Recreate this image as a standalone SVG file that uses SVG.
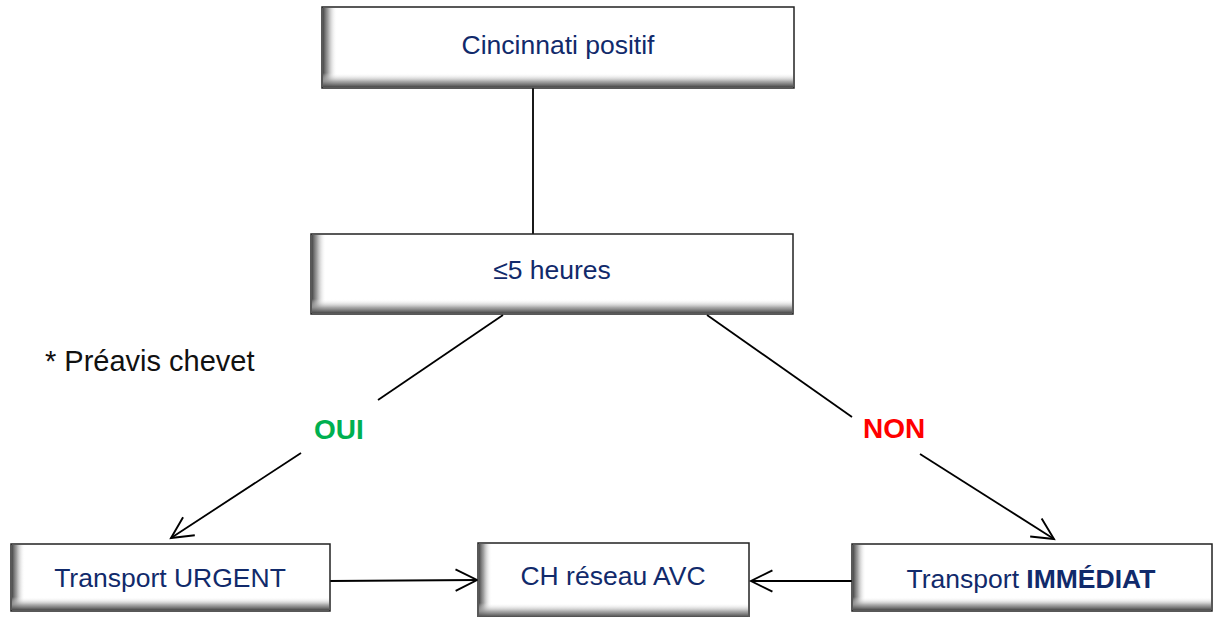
<svg xmlns="http://www.w3.org/2000/svg" width="1214" height="617" viewBox="0 0 1214 617">
  <style>
    .box { fill: #ffffff; stroke: #222222; stroke-width: 1.5; }
    .shade-l { fill: url(#shadeLeft); }
    .shade-b { fill: url(#shadeBottom); }
    .label { font-family: "Liberation Sans", Arial, sans-serif; font-size: 26.5px; fill: #112a6b; text-anchor: middle; }
    .note { font-family: "Liberation Sans", Arial, sans-serif; font-size: 29px; fill: #111111; }
    .yes { font-family: "Liberation Sans", Arial, sans-serif; font-size: 28px; font-weight: bold; fill: #00b050; }
    .no { font-family: "Liberation Sans", Arial, sans-serif; font-size: 28px; font-weight: bold; fill: #ff0000; }
    .link { stroke: #000000; stroke-width: 1.8; fill: none; }
  </style>
  <defs>
    <linearGradient id="shadeLeft" x1="0" y1="0" x2="1" y2="0">
      <stop offset="0" stop-color="#4a4a4a" stop-opacity="1"/>
      <stop offset="0.35" stop-color="#8a8a8a" stop-opacity="0.8"/>
      <stop offset="1" stop-color="#ffffff" stop-opacity="0"/>
    </linearGradient>
    <linearGradient id="shadeBottom" x1="0" y1="0" x2="0" y2="1">
      <stop offset="0" stop-color="#ffffff" stop-opacity="0"/>
      <stop offset="0.6" stop-color="#9a9a9a" stop-opacity="0.85"/>
      <stop offset="1" stop-color="#4a4a4a" stop-opacity="1"/>
    </linearGradient>
    <marker id="arrow" markerUnits="userSpaceOnUse" markerWidth="30" markerHeight="30" viewBox="-24 -12 28 24" refX="0" refY="0" orient="auto">
      <path d="M-20,-10 L0,0 L-20,10" fill="none" stroke="#000000" stroke-width="1.8"/>
    </marker>
  </defs>

  <!-- connectors -->
  <g id="connectors">
    <line class="link" x1="533" y1="88" x2="533" y2="234"/>
    <line class="link" x1="503" y1="315" x2="378" y2="400"/>
    <line class="link" x1="301" y1="453" x2="171" y2="538" marker-end="url(#arrow)"/>
    <line class="link" x1="707" y1="315" x2="852" y2="417"/>
    <line class="link" x1="920" y1="454" x2="1054" y2="539" marker-end="url(#arrow)"/>
    <line class="link" x1="330" y1="581" x2="477" y2="580" marker-end="url(#arrow)"/>
    <line class="link" x1="852" y1="581" x2="751" y2="581" marker-end="url(#arrow)"/>
  </g>

  <!-- nodes -->
  <g id="node-cincinnati">
    <rect class="box" x="322" y="7" width="472" height="81"/>
    <rect class="shade-l" x="323" y="8" width="14" height="79"/>
    <rect class="shade-b" x="323" y="73" width="470" height="14"/>
    <text class="label" x="558" y="54">Cincinnati positif</text>
  </g>

  <g id="node-delai">
    <rect class="box" x="311" y="234" width="482" height="80"/>
    <rect class="shade-l" x="312" y="235" width="14" height="78"/>
    <rect class="shade-b" x="312" y="299" width="480" height="14"/>
    <text class="label" x="552" y="279">≤5 heures</text>
  </g>

  <g id="node-urgent">
    <rect class="box" x="11" y="544" width="319" height="67"/>
    <rect class="shade-l" x="12" y="545" width="13" height="65"/>
    <rect class="shade-b" x="12" y="597" width="317" height="13"/>
    <text class="label" x="170" y="587">Transport URGENT</text>
  </g>

  <g id="node-ch">
    <rect class="box" x="478" y="543" width="271" height="80"/>
    <rect class="shade-l" x="479" y="544" width="13" height="72"/>
    <rect class="shade-b" x="479" y="603" width="269" height="14"/>
    <text class="label" x="613" y="585">CH réseau AVC</text>
  </g>

  <g id="node-immediat">
    <rect class="box" x="852" y="544" width="360" height="67"/>
    <rect class="shade-l" x="853" y="545" width="13" height="65"/>
    <rect class="shade-b" x="853" y="597" width="358" height="13"/>
    <text class="label" x="1031" y="588">Transport <tspan font-weight="bold">IMMÉDIAT</tspan></text>
  </g>

  <!-- branch labels and note -->
  <text id="label-oui" class="yes" x="314" y="439">OUI</text>
  <text id="label-non" class="no" x="863" y="438">NON</text>
  <text id="note-preavis" class="note" x="45" y="371">* Préavis chevet</text>
</svg>
